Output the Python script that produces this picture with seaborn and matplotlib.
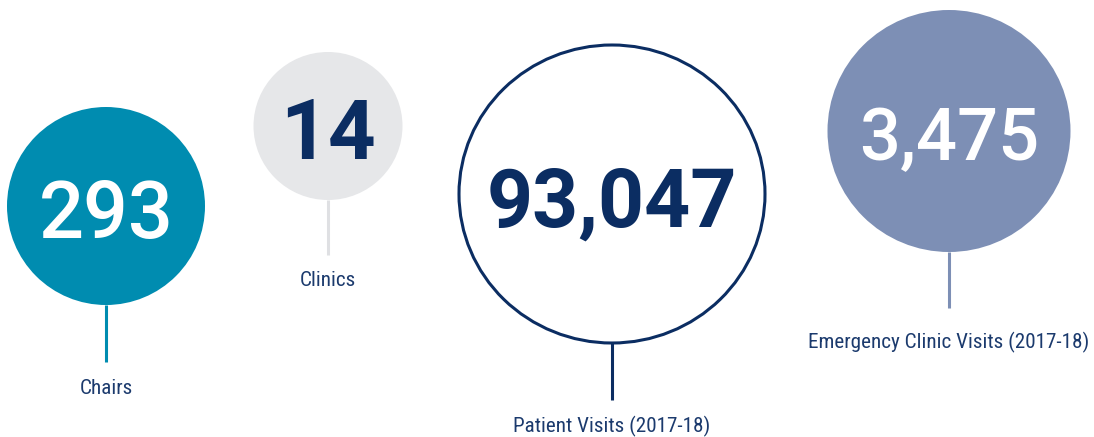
import matplotlib
matplotlib.use("Agg")
import matplotlib.pyplot as plt
import seaborn as sns
from matplotlib.patches import Ellipse

# data
labels = ["Chairs", "Clinics", "Patient Visits (2017-18)", "Emergency Clinic Visits (2017-18)"]
values = ["293", "14", "93,047", "3,475"]

# layout (pixel coords of the 1094x437 canvas)
cx = [106, 328, 612, 949]
cy = [206, 126, 194, 131]
rx = [99, 74.5, 153, 121.5]
ry = [99, 74, 149, 121]
line_end = [362, 255, 400, 308]
label_y = [389, 281, 426, 342]

fills = ["#008cb0", "#e6e7e9", "#ffffff", "#7d8fb5"]
edges = ["#008cb0", "#e6e7e9", "#0b2d62", "#7d8fb5"]
stems = ["#008cb0", "#dfe0e3", "#0b2d62", "#7d8fb5"]
num_colors = ["white", "#0b2d62", "#0b2d62", "white"]
num_weights = ["medium", "bold", "bold", "medium"]
num_sizes = [57, 60, 58, 52]
navy = "#1b3a6d"

sns.set_theme(style="white")
label_font = ["Roboto Condensed", "DejaVu Sans"]
num_font = ["Roboto", "DejaVu Sans"]

fig = plt.figure(figsize=(10.94, 4.37), dpi=100)
ax = fig.add_axes([0, 0, 1, 1])
ax.set_xlim(0, 1094)
ax.set_ylim(437, 0)
ax.axis("off")

for i in range(len(labels)):
    lw = 2.2 if fills[i] == "#ffffff" else 0
    ax.vlines(cx[i], cy[i] + ry[i], line_end[i], color=stems[i], lw=2.2, zorder=1)
    ax.add_patch(Ellipse((cx[i], cy[i]), 2 * rx[i], 2 * ry[i], facecolor=fills[i],
                         edgecolor=edges[i], lw=lw, zorder=2))
    ax.text(cx[i], cy[i] + 2, values[i], ha="center", va="center_baseline",
            fontsize=num_sizes[i], fontweight=num_weights[i], color=num_colors[i],
            family=num_font, zorder=3)
    ax.text(cx[i], label_y[i], labels[i], ha="center", va="center",
            fontsize=15.2, color=navy, family=label_font, zorder=3)

fig.savefig("out.png", dpi=100)
